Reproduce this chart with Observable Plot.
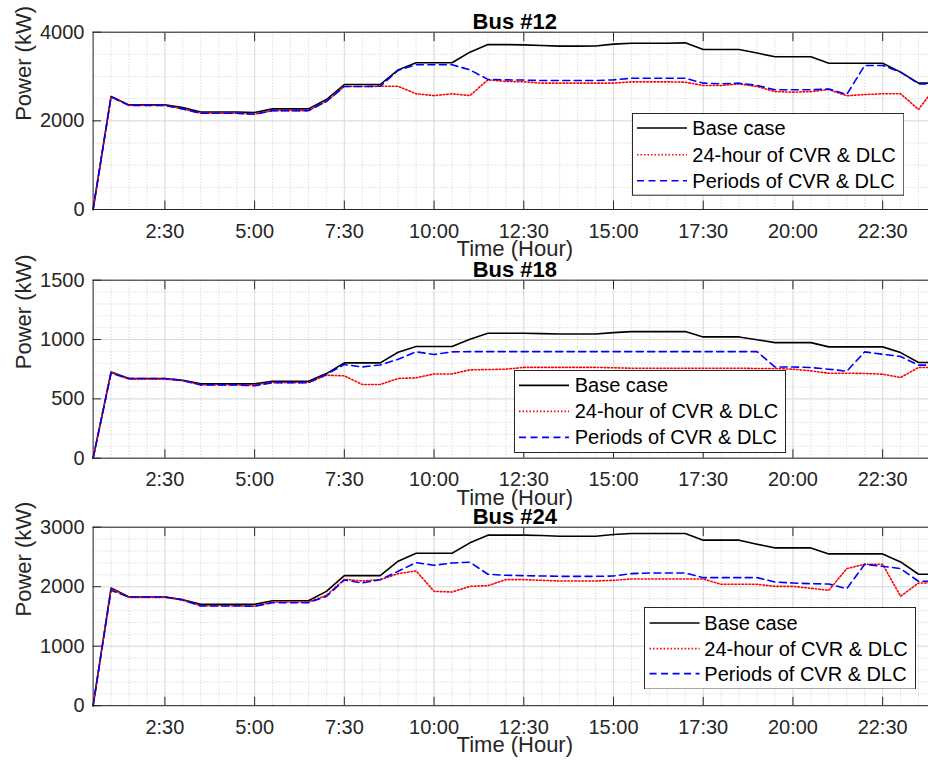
<!DOCTYPE html>
<html><head><meta charset="utf-8">
<script src="https://cdn.jsdelivr.net/npm/d3@7"></script>
<script src="https://cdn.jsdelivr.net/npm/@observablehq/plot@0.6"></script>
<style>
html,body{margin:0;padding:0;background:#fff;overflow:hidden;}
#root{position:relative;width:928px;height:760px;overflow:hidden;background:#fff;font-family:"Liberation Sans",Arial,Helvetica,sans-serif;}
.panel{position:absolute;left:0;}
.legend{position:absolute;}
</style></head><body><div id="root"></div>
<script>
// ---- data ----
const hours = [0.5,1,1.5,2,2.5,3,3.5,4,4.5,5,5.5,6,6.5,7,7.5,8,8.5,9,9.5,10,10.5,11,11.5,12,
  12.5,13,13.5,14,14.5,15,15.5,16,16.5,17,17.5,18,18.5,19,19.5,20,20.5,21,21.5,22,22.5,23,23.5,24];
const xTicks = [2.5,5,7.5,10,12.5,15,17.5,20,22.5];
const xTickLabels = ["2:30","5:00","7:30","10:00","12:30","15:00","17:30","20:00","22:30"];
const seriesNames = ["Base case","24-hour of CVR & DLC","Periods of CVR & DLC"];

const bus12Base = [0,2550,2360,2360,2360,2300,2200,2200,2200,2190,2270,2270,2270,2480,2820,2820,2820,3150,3310,3310,3310,3550,3720,3720,
  3715,3700,3685,3685,3690,3730,3750,3750,3750,3760,3610,3610,3610,3530,3445,3445,3445,3300,3300,3300,3300,3100,2850,2850];
const bus12Full = [0,2540,2350,2350,2350,2270,2170,2170,2170,2150,2230,2230,2230,2440,2775,2775,2780,2780,2610,2570,2610,2570,2925,2890,
  2880,2850,2850,2850,2850,2850,2880,2880,2880,2872,2797,2797,2835,2775,2660,2647,2660,2707,2565,2594,2610,2610,2256,2800];
const bus12Periods = [0,2540,2350,2350,2350,2270,2170,2170,2170,2150,2230,2230,2230,2440,2775,2775,2780,3140,3265,3265,3265,3150,2935,2925,
  2920,2910,2910,2910,2910,2925,2960,2960,2960,2960,2850,2835,2850,2800,2700,2700,2700,2720,2595,3250,3250,3100,2835,2835];

const bus18Base = [0,727,671,671,671,657,626,626,626,626,649,649,649,713,803,803,803,893,941,941,941,1003,1053,1053,
  1053,1050,1047,1047,1047,1058,1067,1067,1067,1067,1022,1022,1022,998,974,974,974,938,938,938,938,890,806,806];
const bus18Full = [0,722,666,666,666,652,618,618,618,618,637,637,637,699,694,621,621,672,677,710,710,744,747,750,
  765,765,765,765,765,762,758,758,758,758,758,758,758,756,756,750,736,716,716,714,708,680,764,764];
const bus18Periods = [0,716,671,671,671,655,618,618,618,610,637,637,637,707,789,769,786,834,896,874,896,898,898,898,
  898,898,898,898,898,898,898,898,898,898,898,898,898,898,769,769,764,750,733,896,876,857,784,784];

const bus24Base = [0,1978,1826,1826,1826,1782,1703,1703,1703,1703,1765,1765,1765,1922,2186,2186,2186,2428,2563,2563,2563,2737,2866,2866,
  2866,2860,2849,2849,2849,2877,2894,2894,2894,2894,2782,2782,2782,2714,2652,2652,2652,2551,2551,2551,2551,2416,2209,2209];
const bus24Full = [0,1966,1820,1820,1820,1775,1681,1681,1681,1670,1742,1742,1742,1855,2124,2096,2118,2220,2265,1922,1910,2006,2017,2119,
  2119,2107,2096,2096,2096,2107,2130,2130,2130,2130,2130,2040,2040,2040,2006,2006,1973,1939,2304,2377,2377,1838,2062,2062];
const bus24Periods = [0,1939,1826,1826,1826,1775,1676,1676,1676,1670,1731,1731,1731,1837,2113,2062,2118,2259,2405,2360,2399,2411,2209,2192,
  2186,2180,2174,2174,2174,2180,2220,2230,2230,2230,2152,2152,2152,2152,2079,2062,2051,2045,1967,2377,2343,2304,2091,2091];

const bus12YTicks = [0,2000,4000];
const bus18YTicks = [0,500,1000,1500];
const bus24YTicks = [0,1000,2000,3000];

// ---- styling ----
const FONT = '"Liberation Sans", Arial, Helvetica, sans-serif';
const styles = [
  {stroke:"#000000", strokeWidth:1.6, dash:null},
  {stroke:"#ff0000", strokeWidth:1.6, dash:"1.5,2"},
  {stroke:"#0000ff", strokeWidth:1.6, dash:"7,4.5"}
];

const panels = [
  {title:"Bus #12", data:[bus12Base,bus12Full,bus12Periods], yDomain:[0,4000], yTicks:bus12YTicks, minorStep:500, top:0, frameH:177.3,
   legend:{left:631.7, top:113.3, w:272.3, h:82.7, rows:[15,41.7,67.7], lx:5, tx:60.3}},
  {title:"Bus #18", data:[bus18Base,bus18Full,bus18Periods], yDomain:[0,1500], yTicks:bus18YTicks, minorStep:100, top:247.6, frameH:178,
   legend:{left:514.3, top:370.3, w:272, h:83, rows:[15.4,41.4,67.4], lx:5, tx:60.7}},
  {title:"Bus #24", data:[bus24Base,bus24Full,bus24Periods], yDomain:[0,3000], yTicks:bus24YTicks, minorStep:200, top:494.8, frameH:178.5,
   legend:{left:643.7, top:606.7, w:272, h:82.6, rows:[16,41.6,66.6], lx:5.6, tx:60.3}}
];

const root = document.getElementById("root");
const MT = 31.7, MB = 52, ML = 92.6, TICK = 8.4;

for (const p of panels) {
  const rows = [];
  p.data.forEach((arr, s) => arr.forEach((v, i) => rows.push({series: seriesNames[s], t: hours[i], p: v})));
  const yMinor = d3.range(p.yDomain[0], p.yDomain[1] + 1e-9, p.minorStep);
  const lineMarks = seriesNames.map((name, s) =>
    Plot.lineY(rows.filter(r => r.series === name), {
      x: "t", y: "p", stroke: styles[s].stroke, strokeWidth: styles[s].strokeWidth,
      strokeDasharray: styles[s].dash ?? undefined, strokeLinejoin: "round"
    }));
  const svg = Plot.plot({
    width: 936, height: MT + p.frameH + MB,
    marginTop: MT, marginBottom: MB, marginLeft: ML, marginRight: 0,
    style: {background: "transparent", maxWidth: "none", overflow: "visible", fontFamily: FONT, fontSize: "20px", color: "#262626"},
    x: {domain: [0.5, 24]},
    y: {domain: p.yDomain},
    marks: [
      Plot.gridX(hours, {stroke: "#cfcfcf", strokeOpacity: 1, strokeDasharray: "1,2"}),
      Plot.gridY(yMinor, {stroke: "#cfcfcf", strokeOpacity: 1, strokeDasharray: "1,2"}),
      Plot.gridX(xTicks, {stroke: "#dcdcdc", strokeOpacity: 1}),
      Plot.gridY(p.yTicks, {stroke: "#dcdcdc", strokeOpacity: 1}),
      ...lineMarks,
      Plot.frame({stroke: "#262626", strokeWidth: 1}),
      Plot.axisX(xTicks, {anchor: "bottom", tickSize: -TICK, tickPadding: 14 + TICK, label: null,
        tickFormat: d => xTickLabels[xTicks.indexOf(d)], fontSize: 20, fill: "#262626", stroke: "#262626"}),
      Plot.axisX(xTicks, {anchor: "top", tickSize: -TICK, tickFormat: () => "", label: null, stroke: "#262626"}),
      Plot.axisY(p.yTicks, {anchor: "left", tickSize: -TICK, tickPadding: 8.6 + TICK, label: null,
        tickFormat: d => String(d), fontSize: 20, fill: "#262626", stroke: "#262626"}),
      Plot.axisY(p.yTicks, {anchor: "right", tickSize: -TICK, tickFormat: () => "", label: null, stroke: "#262626"}),
      Plot.text([p.title], {text: d => d, frameAnchor: "top", lineAnchor: "bottom", dy: -3.3, fontWeight: "bold", fontSize: 22, fill: "#000"}),
      Plot.text(["Time (Hour)"], {text: d => d, frameAnchor: "bottom", lineAnchor: "bottom", dy: 46.5, fontSize: 22, fill: "#262626"}),
      Plot.text(["Power (kW)"], {text: d => d, frameAnchor: "left", lineAnchor: "middle", rotate: -90, dx: -69.6, fontSize: 22, fill: "#262626"})
    ]
  });
  svg.classList.add("panel");
  svg.style.top = p.top + "px";
  root.appendChild(svg);

  // legend
  const L = p.legend;
  const lg = d3.create("svg").attr("class", "legend").attr("width", L.w).attr("height", L.h)
    .style("left", L.left + "px").style("top", L.top + "px");
  lg.append("rect").attr("x", 0.5).attr("y", 0.5).attr("width", L.w - 1).attr("height", L.h - 1)
    .attr("fill", "#fff").attr("stroke", "#262626").attr("stroke-width", 1);
  seriesNames.forEach((name, s) => {
    lg.append("line").attr("x1", L.lx).attr("x2", L.lx + 50).attr("y1", L.rows[s]).attr("y2", L.rows[s])
      .attr("stroke", styles[s].stroke).attr("stroke-width", styles[s].strokeWidth)
      .attr("stroke-dasharray", styles[s].dash);
    lg.append("text").attr("x", L.tx).attr("y", L.rows[s]).attr("dy", "0.35em")
      .attr("font-family", FONT).attr("font-size", 20).attr("fill", "#000").text(name);
  });
  root.appendChild(lg.node());
}
</script>
</body></html>
